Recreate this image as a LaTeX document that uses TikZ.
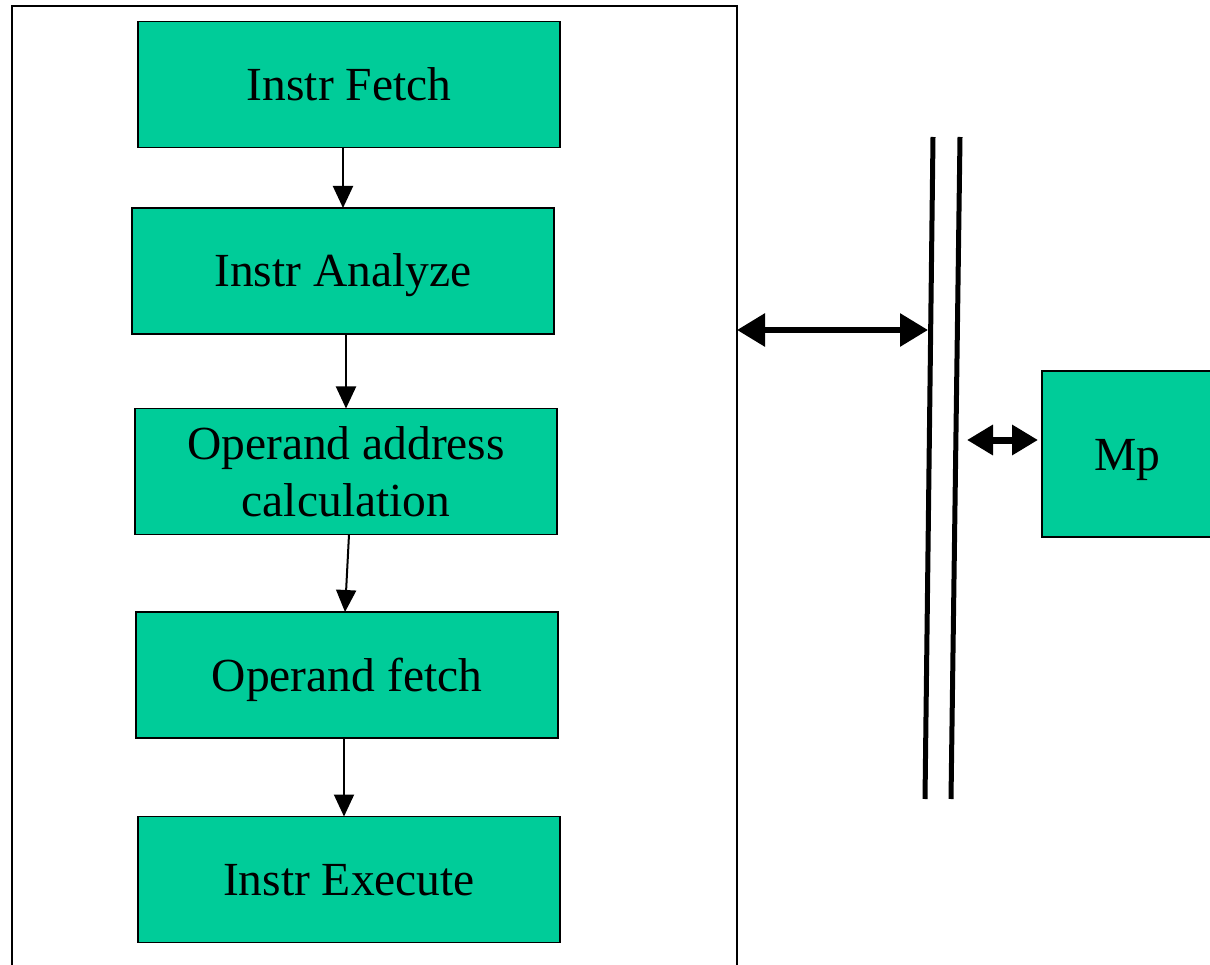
\documentclass[tikz,border=0pt]{standalone}
\usepackage{fontspec}
\setmainfont{Liberation Serif}
\usetikzlibrary{arrows.meta,calc}
\definecolor{stagegreen}{HTML}{00CC99}
\tikzset{
  stage/.style={draw=black, line width=1.5pt, fill=stagegreen, inner sep=0pt, outer sep=0pt,
    minimum width=422pt, minimum height=126pt, align=center,
    font=\fontsize{47.5}{57}\selectfont},
  oneline/.style={text height=40pt, text depth=8pt},
  flow/.style={line width=2pt, -{Triangle[width=20pt,length=22pt]}},
  busarrow/.style={line width=6pt, {Triangle[width=32pt,length=28pt]}-{Triangle[width=32pt,length=28pt]}},
  smallbus/.style={line width=7pt, {Triangle[width=29pt,length=26pt]}-{Triangle[width=29pt,length=26pt]}},
  busline/.style={line width=5pt},
}
\begin{document}
\begin{tikzpicture}[x=1pt,y=-1pt]
\useasboundingbox (0,0) rectangle (1210,965);
\clip (0,0) rectangle (1210,965);
\fill[white] (0,0) rectangle (1210,965);

% processor frame
\draw[line width=1.5pt] (12,6) rectangle (737,1000);
\coordinate (cpuport) at (737,330);

% pipeline stages
\node[stage, oneline] (fetch)   at (349,84.5)  {Instr Fetch};
\node[stage, oneline] (analyze) at (343,271)   {Instr Analyze};
\node[stage]          (addr)    at (346,471.5) {Operand address\\calculation};
\node[stage, oneline] (opfetch) at (347,675)   {Operand fetch};
\node[stage, oneline] (exec)    at (349,879.5) {Instr Execute};

% memory
\node[stage, oneline, minimum width=170pt, minimum height=166pt] (mp) at (1127,454) {Mp};

% bus
\coordinate (busAtop) at (933,137);
\coordinate (busAbot) at (925,799);
\coordinate (busBtop) at (960,137);
\coordinate (busBbot) at (951,799);
\draw[busline] (busAtop) -- (busAbot);
\draw[busline] (busBtop) -- (busBbot);
\coordinate (busAin) at (928,330);
\coordinate (busBout) at (967,440);

% stage flow
\draw[flow] ([xshift=-6pt]fetch.south) -- (analyze.north);
\draw[flow] (analyze.south -| addr.north) -- (addr.north);
\draw[flow] ([xshift=3pt]addr.south) -- ([xshift=-2pt]opfetch.north);
\draw[flow] ([xshift=-3pt]opfetch.south) -- ([xshift=-5pt]exec.north);

% bus connections
\draw[busarrow] (cpuport) -- (busAin);
\draw[smallbus] (busBout) -- ([xshift=-4pt]busBout -| mp.west);
\end{tikzpicture}
\end{document}
